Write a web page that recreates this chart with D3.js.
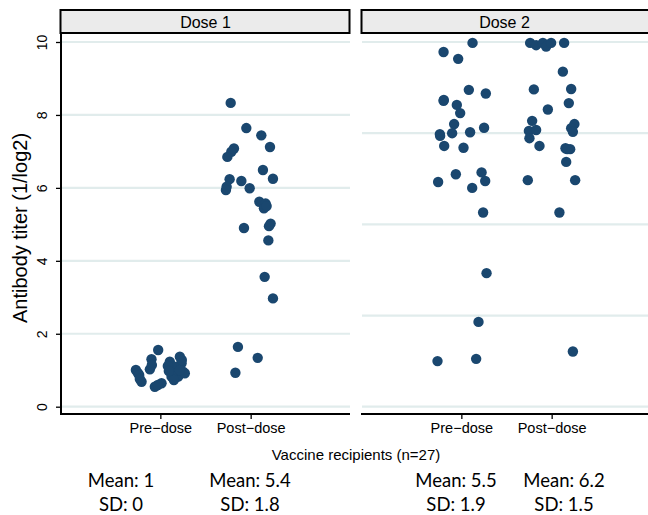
<!DOCTYPE html>
<html><head><meta charset="utf-8">
<script src="https://cdn.jsdelivr.net/npm/d3@7"></script>
<style>body{margin:0;background:#fff}svg{display:block}
.hv{font-family:'Liberation Sans', Arial, Helvetica, sans-serif;}
.cb{font-family:'Lato', 'Open Sans', sans-serif;}
</style>
</head><body>
<script>
// ---------- data ----------
const panels = ["Dose 1", "Dose 2"];
const categories = ["Pre\u2212dose", "Post\u2212dose"];
const yTicksLeft = [0, 2, 4, 6, 8, 10];
const gridRight = [0, 2, 4, 6, 8];
// each point: [value, horizontal jitter in category units]
const dose1Pre = [[1.555,-0.024],[1.30,-0.098],[1.025,-0.116],[1.143,-0.094],[1.006,-0.271],[0.924,-0.249],[0.869,-0.234],[0.685,-0.208],[0.760,-0.227],[0.548,-0.061],[0.642,0.013],[0.595,-0.028],[1.234,0.105],[1.371,0.216],[1.190,0.235],[1.025,0.116],[1.097,0.179],[0.960,0.252],[0.823,0.124],[0.823,0.197],[0.916,0.271],[0.924,0.138],[1.116,0.083],[1.006,0.216],[0.732,0.150],[1.281,0.238],[0.979,0.094]];
const dose1Post = [[8.33,-0.221],[7.64,-0.048],[7.44,0.118],[7.12,0.214],[7.08,-0.185],[6.99,-0.214],[6.85,-0.258],[6.49,0.136],[6.25,0.247],[6.24,-0.233],[6.19,-0.103],[6.03,-0.266],[5.94,-0.274],[5.99,-0.011],[5.62,0.096],[5.57,0.166],[5.44,0.147],[5.50,0.177],[5.02,0.221],[4.95,0.203],[4.90,-0.074],[4.56,0.196],[3.56,0.155],[2.97,0.247],[1.64,-0.141],[1.34,0.078],[0.93,-0.169]];
const dose2Pre = [[7.98,0.124],[7.78,-0.197],[7.63,-0.035],[6.95,0.083],[6.87,0.271],[6.71,-0.197],[6.62,-0.050],[6.44,-0.013],[6.20,-0.080],[6.12,0.252],[5.98,-0.238],[5.94,-0.235],[6.00,-0.102],[6.02,0.097],[5.72,-0.190],[5.68,0.024],[5.14,0.224],[5.10,-0.061],[4.93,-0.257],[4.95,0.264],[4.80,0.120],[4.26,0.241],[2.93,0.279],[1.86,0.190],[1.00,-0.264],[1.05,0.164],[6.73,-0.194]];
const dose2Post = [[7.98,-0.238],[7.93,-0.172],[7.98,-0.097],[7.90,-0.061],[7.98,-0.006],[7.98,0.138],[7.35,0.124],[6.96,-0.197],[6.97,0.216],[6.66,0.190],[6.52,-0.042],[6.27,-0.216],[6.20,0.252],[6.11,0.216],[6.05,-0.252],[6.07,-0.172],[6.03,0.235],[5.89,-0.246],[5.72,-0.135],[5.67,0.153],[5.65,0.205],[5.37,0.161],[4.97,-0.264],[4.97,0.260],[4.26,0.086],[1.21,0.235],[5.65,0.172]];
const summaryMean = ["Mean: 1", "Mean: 5.4", "Mean: 5.5", "Mean: 6.2"];
const summarySD = ["SD: 0", "SD: 1.8", "SD: 1.9", "SD: 1.5"];
const xTitle = "Vaccine recipients (n=27)";
const yTitle = "Antibody titer (1/log2)";

// ---------- layout ----------
const W = 648, H = 515;
const svg = d3.select("body").append("svg").attr("width", W).attr("height", H);
const panelTop = 33, panelBottom = 414;
const panelX = [[61, 350], [362, 651]];
const color = "#1a476f";
const gridColor = "#e1ecec";

const yLeft = d3.scaleLinear().domain([0, 10]).range([406.7, 42]);
const yRight = d3.scaleLinear().domain([0, 8]).range([406.7, 42]);
const yScales = [yLeft, yRight];
const grids = [yTicksLeft, gridRight];
const dataSets = [[dose1Pre, dose1Post], [dose2Pre, dose2Post]];

panels.forEach((p, i) => {
  const [x0, x1] = panelX[i];
  const x = d3.scaleLinear().domain([-0.1, 3.1]).range([x0, x1]);
  const y = yScales[i];
  const g = svg.append("g");
  g.selectAll("line.grid").data(grids[i]).join("line")
    .attr("x1", x0).attr("x2", x1)
    .attr("y1", d => y(d)).attr("y2", d => y(d))
    .attr("stroke", gridColor).attr("stroke-width", 2.2);
  dataSets[i].forEach((ds, ci) => {
    g.selectAll(null).data(ds).join("circle")
      .attr("cx", d => x(ci + 1 + d[1]))
      .attr("cy", d => y(d[0]))
      .attr("r", 5.2)
      .attr("fill", color);
  });
  const xAxis = d3.axisBottom(x).tickValues([1, 2]).tickFormat(d => categories[d - 1])
    .tickSize(5).tickSizeOuter(0);
  const ax = svg.append("g").attr("transform", `translate(0,${panelBottom})`).call(xAxis)
    .attr("font-family", null).attr("font-size", null);
  ax.select(".domain").attr("stroke", "#000").attr("stroke-width", 2).attr("d", `M${x0 - 1},0H${x1}`);
  ax.selectAll(".tick line").attr("stroke", "#000").attr("stroke-width", 1.3);
  ax.selectAll(".tick text").attr("class", "hv")
    .attr("font-size", 14.5).attr("fill", "#000").attr("dy", "0.71em").attr("y", 9);
  svg.append("rect").attr("x", x0 - 0.5).attr("y", 10).attr("width", x1 - x0).attr("height", 23)
    .attr("fill", "#ebebeb").attr("stroke", "#000").attr("stroke-width", 2);
  svg.append("text").attr("class", "hv").attr("x", (x0 + x1) / 2 - (i === 1 ? 2 : 0)).attr("y", 27.5)
    .attr("text-anchor", "middle").attr("font-size", 16).text(p);
});

const yAx = svg.append("g").attr("transform", `translate(61,0)`)
  .call(d3.axisLeft(yLeft).tickValues(yTicksLeft).tickSize(5).tickSizeOuter(0))
  .attr("font-family", null).attr("font-size", null);
yAx.select(".domain").attr("stroke", "#000").attr("stroke-width", 2).attr("d", `M0,${panelTop}V${panelBottom + 1}`);
yAx.selectAll(".tick line").attr("stroke", "#000").attr("stroke-width", 1.3);
yAx.selectAll(".tick text").attr("class", "hv").attr("font-size", 14)
  .attr("fill", "#000").attr("text-anchor", "middle").attr("dy", 0).attr("x", 0)
  .attr("transform", "translate(-14,0) rotate(-90)");

svg.append("text").attr("class", "hv").attr("x", 356).attr("y", 460).attr("text-anchor", "middle")
  .attr("font-size", 15).text(xTitle);
svg.append("text").attr("class", "hv").attr("transform", "translate(27,228) rotate(-90)")
  .attr("text-anchor", "middle").attr("font-size", 20).text(yTitle);

const sumX = [121, 250, 456, 564];
svg.selectAll("text.mean").data(summaryMean).join("text").attr("class", "cb")
  .attr("x", (d, i) => sumX[i]).attr("y", 487).attr("text-anchor", "middle")
  .attr("font-size", 18.5).text(d => d);
svg.selectAll("text.sd").data(summarySD).join("text").attr("class", "cb")
  .attr("x", (d, i) => sumX[i]).attr("y", 511).attr("text-anchor", "middle")
  .attr("font-size", 18.5).text(d => d);
</script>
</body></html>
